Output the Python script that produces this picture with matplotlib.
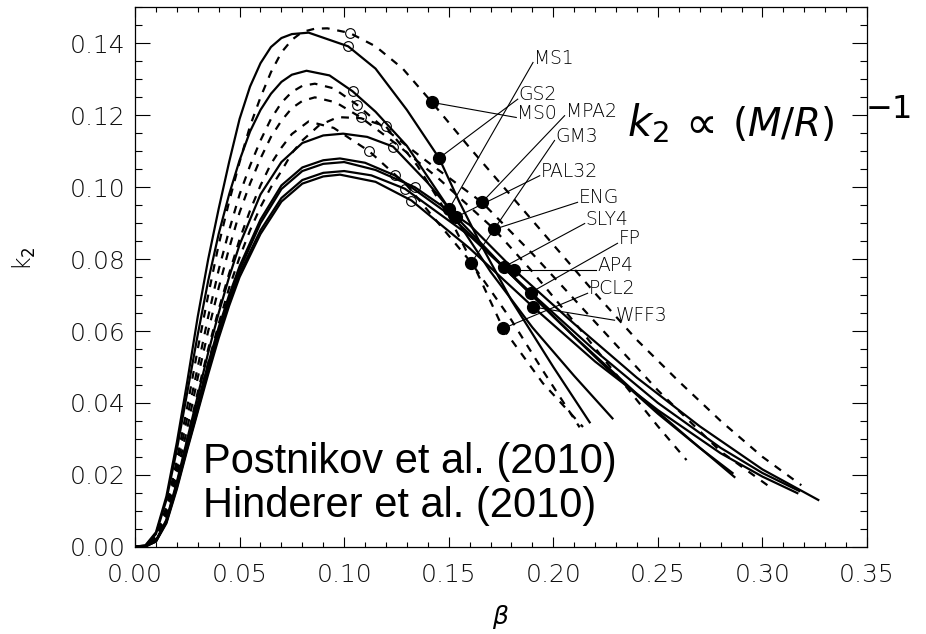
import matplotlib
matplotlib.use('Agg')
import matplotlib.pyplot as plt
from matplotlib.ticker import MultipleLocator, FormatStrFormatter

# k2 vs compactness beta
beta_ms0 = [0, .005, .01, .015, .02, .025, .03, .035, .04, .045, .05, .055, .06, .065, .07, .075, .08, .086, .092,
            .1027, .115, .128, .142, .16, .18, .20, .22, .24, .26, .28, .30, .3186]
k2_ms0 = [0, .0002, .003, .011, .024, .039, .055, .070, .084, .096, .107, .117, .125, .132, .1375, .141, .1432, .1441, .1442,
          .1429, .1392, .1330, .1236, .1110, .0975, .0840, .0705, .0575, .0460, .0350, .0250, .0171]

beta_gs2 = [0, .005, .01, .015, .02, .025, .03, .035, .04, .045, .05, .055, .06, .065, .07, .075, .083,
            .1019, .115, .13, .1454, .155, .165, .18, .20, .2174]
k2_gs2 = [0, .0004, .004, .014, .029, .046, .064, .080, .094, .107, .119, .128, .1345, .139, .1415, .1426, .1430,
          .1392, .1330, .1215, .1081, .0960, .0845, .0685, .0500, .0346]

beta_ms1 = [0, .005, .01, .015, .02, .025, .03, .035, .04, .045, .05, .055, .06, .065, .07, .075, .082,
            .093, .104, .115, .13, .1502, .17, .19, .21, .2283]
k2_ms1 = [0, .0003, .0035, .013, .027, .043, .059, .074, .087, .098, .1075, .1155, .1215, .126, .1293, .1313, .1324,
          .1311, .1267, .1210, .1115, .0940, .0765, .0610, .0475, .0357]

beta_mpa2 = [0, .005, .01, .015, .02, .025, .03, .035, .04, .045, .05, .055, .06, .065, .07, .075, .08, .086,
             .095, .106, .12, .14, .1659, .19, .22, .25, .28, .3043]
k2_mpa2 = [0, .0002, .0025, .010, .022, .036, .050, .064, .077, .088, .098, .106, .113, .119, .1235, .1265, .1282, .1288,
           .1275, .1230, .1160, .1070, .0958, .0815, .0625, .0435, .0265, .0163]

beta_eng = [0, .005, .01, .015, .02, .025, .03, .035, .04, .045, .05, .055, .06, .065, .07, .075, .08, .086,
            .096, .108, .125, .145, .1718, .19, .21, .23, .25, .2637]
k2_eng = [0, .0002, .0022, .009, .020, .033, .047, .060, .072, .083, .093, .101, .108, .114, .1185, .122, .124, .125,
          .1236, .1194, .1120, .1025, .0883, .0765, .0625, .0480, .0335, .0241]

beta_gm3 = [0, .005, .01, .015, .02, .025, .03, .035, .04, .045, .05, .055, .06, .065, .07, .075, .083,
            .095, .112, .13, .1608, .18, .195, .2126]
k2_gm3 = [0, .0002, .002, .008, .018, .030, .043, .055, .066, .076, .0855, .0935, .1005, .1065, .111, .1148, .1183,
          .1165, .1100, .1005, .0790, .0630, .0490, .0332]

beta_pcl2 = [0, .005, .01, .015, .02, .025, .03, .035, .04, .045, .05, .055, .06, .065, .07, .075, .08, .088, .097,
             .108, .12, .135, .15, .163, .176, .195, .2142]
k2_pcl2 = [0, .0001, .0018, .0075, .017, .028, .040, .051, .062, .072, .0805, .088, .0945, .100, .1045, .1095, .1130, .1172, .1195,
           .1192, .1169, .1060, .0920, .0770, .0607, .0455, .0333]

beta_pal32 = [0, .005, .01, .015, .02, .025, .03, .035, .04, .045, .05, .06, .07, .08, .09, .0995,
              .111, .1234, .14, .1536, .18, .21, .24, .265, .2866]
k2_pal32 = [0, .0001, .0017, .0075, .018, .030, .042, .054, .065, .075, .084, .098, .107, .1123, .1144, .1149,
            .1140, .1113, .1012, .0917, .0755, .0585, .0425, .0300, .0194]

beta_sly4 = [0, .005, .01, .015, .02, .025, .03, .035, .04, .045, .05, .06, .07, .08, .09, .098,
             .11, .1242, .15, .1763, .20, .225, .25, .27, .2857]
k2_sly4 = [0, .0001, .0016, .0072, .0175, .029, .040, .051, .061, .070, .078, .091, .1005, .1055, .1075, .108,
           .1068, .1033, .0925, .0778, .0640, .0500, .0370, .0275, .0205]

beta_ap4 = [0, .005, .01, .015, .02, .025, .03, .035, .04, .045, .05, .06, .07, .08, .09, .10,
            .115, .1338, .16, .1811, .21, .24, .27, .30, .3267]
k2_ap4 = [0, .0001, .0015, .007, .017, .028, .039, .050, .060, .069, .077, .090, .0995, .1045, .1065, .107,
          .1048, .1000, .0895, .0771, .0620, .0470, .0335, .0215, .0130]

beta_fp = [0, .005, .01, .015, .02, .025, .03, .035, .04, .045, .05, .06, .07, .08, .09, .10,
           .113, .129, .16, .1892, .22, .25, .28, .30, .3176]
k2_fp = [0, .0001, .0015, .0068, .0165, .0275, .038, .049, .059, .068, .076, .088, .097, .102, .104, .1045,
         .1033, .0996, .0865, .0707, .0545, .0400, .0275, .0205, .0155]

beta_wff3 = [0, .005, .01, .015, .02, .025, .03, .035, .04, .045, .05, .06, .07, .08, .09, .098,
             .115, .1322, .16, .1903, .22, .25, .28, .30, .3167]
k2_wff3 = [0, .0001, .0014, .0065, .016, .027, .0375, .048, .058, .067, .075, .087, .096, .101, .103, .1035,
           .1015, .0963, .0830, .0667, .0515, .0380, .0260, .0195, .0149]

# markers and labels
eos_names = ['MS1', 'GS2', 'MS0', 'MPA2', 'GM3', 'PAL32', 'ENG', 'SLY4', 'FP', 'AP4', 'PCL2', 'WFF3']
dot_beta = [0.1502, 0.1454, 0.1420, 0.1659, 0.1608, 0.1536, 0.1718, 0.1763, 0.1892, 0.1811, 0.1760, 0.1903]
dot_k2 = [0.0940, 0.1081, 0.1236, 0.0958, 0.0790, 0.0917, 0.0883, 0.0778, 0.0707, 0.0771, 0.0607, 0.0667]
circle_beta = [0.104, 0.1019, 0.1027, 0.106, 0.112, 0.1234, 0.108, 0.1242, 0.129, 0.1338, 0.120, 0.1322]
circle_k2 = [0.1267, 0.1392, 0.1429, 0.1230, 0.1100, 0.1113, 0.1194, 0.1033, 0.0996, 0.1000, 0.1169, 0.0963]
label_beta = [0.1903, 0.1830, 0.1823, 0.2054, 0.2006, 0.1935, 0.2116, 0.2150, 0.2307, 0.2206, 0.2164, 0.2293]
label_k2 = [0.1347, 0.1245, 0.1194, 0.1199, 0.1130, 0.1032, 0.0958, 0.0899, 0.0844, 0.0771, 0.0705, 0.0630]

curves = [(beta_ms0, k2_ms0, 'dashed'), (beta_gs2, k2_gs2, 'solid'), (beta_ms1, k2_ms1, 'solid'),
          (beta_mpa2, k2_mpa2, 'dashed'), (beta_eng, k2_eng, 'dashed'), (beta_gm3, k2_gm3, 'dashed'),
          (beta_pcl2, k2_pcl2, 'dashed'), (beta_pal32, k2_pal32, 'solid'), (beta_sly4, k2_sly4, 'solid'),
          (beta_ap4, k2_ap4, 'solid'), (beta_fp, k2_fp, 'solid'), (beta_wff3, k2_wff3, 'solid')]

fig = plt.figure(figsize=(9.26, 6.34), dpi=100)
ax = fig.add_axes([0.1458, 0.1377, 0.7905, 0.8505])

for b, k, style in curves:
    if style == 'dashed':
        ax.plot(b, k, color='k', lw=1.6, dashes=(3.5, 3.5))
    else:
        ax.plot(b, k, color='k', lw=1.6)

for i in range(len(eos_names)):
    ax.plot([dot_beta[i], label_beta[i]], [dot_k2[i], label_k2[i]], color='k', lw=0.8)
    ax.text(label_beta[i] + 0.0005, label_k2[i] - 0.0003, eos_names[i], ha='left', va='baseline',
            fontsize=13.5, color='black', fontweight='light')

ax.plot(circle_beta, circle_k2, 'o', mfc='none', mec='k', ms=7, mew=0.8)
ax.plot(dot_beta, dot_k2, 'o', color='k', ms=8.5)

ax.set_xlim(0, 0.35)
ax.set_ylim(0, 0.15)
ax.xaxis.set_major_locator(MultipleLocator(0.05))
ax.xaxis.set_minor_locator(MultipleLocator(0.01))
ax.yaxis.set_major_locator(MultipleLocator(0.02))
ax.yaxis.set_minor_locator(MultipleLocator(0.005))
ax.xaxis.set_major_formatter(FormatStrFormatter('%.2f'))
ax.yaxis.set_major_formatter(FormatStrFormatter('%.2f'))
ax.tick_params(which='both', direction='in', top=True, right=True, width=0.8, labelsize=18, labelcolor='#111111')
ax.tick_params(axis='x', which='major', length=7, pad=12)
ax.tick_params(axis='x', which='minor', length=3.6)
ax.tick_params(axis='y', which='major', length=10.5, pad=7)
ax.tick_params(axis='y', which='minor', length=5)
for lab in ax.get_xticklabels() + ax.get_yticklabels():
    lab.set_fontweight('light')
for s in ax.spines.values():
    s.set_linewidth(0.9)

ax.set_xlabel(r'$\beta$', fontsize=18, labelpad=11)
ax.set_ylabel(r'k$_2$', fontsize=17, fontweight='light')
ax.yaxis.set_label_coords(-0.133, 0.535)

ax.text(0.0325, 0.0205, 'Postnikov et al. (2010)', fontsize=30, family='Liberation Sans', va='baseline')
ax.text(0.0325, 0.00825, 'Hinderer et al. (2010)', fontsize=30, family='Liberation Sans', va='baseline')

ax.text(0.2351, 0.1142, r'$k_2$', fontsize=30, va='baseline')
ax.text(0.2590, 0.1142, r'$\propto$', fontsize=32, va='baseline')
ax.text(0.2853, 0.1142, r'$(M/R)$', fontsize=28, va='baseline')
ax.text(0.3493, 0.1193, '\u22121', fontsize=23, va='baseline')

fig.savefig('out.png', dpi=100)
